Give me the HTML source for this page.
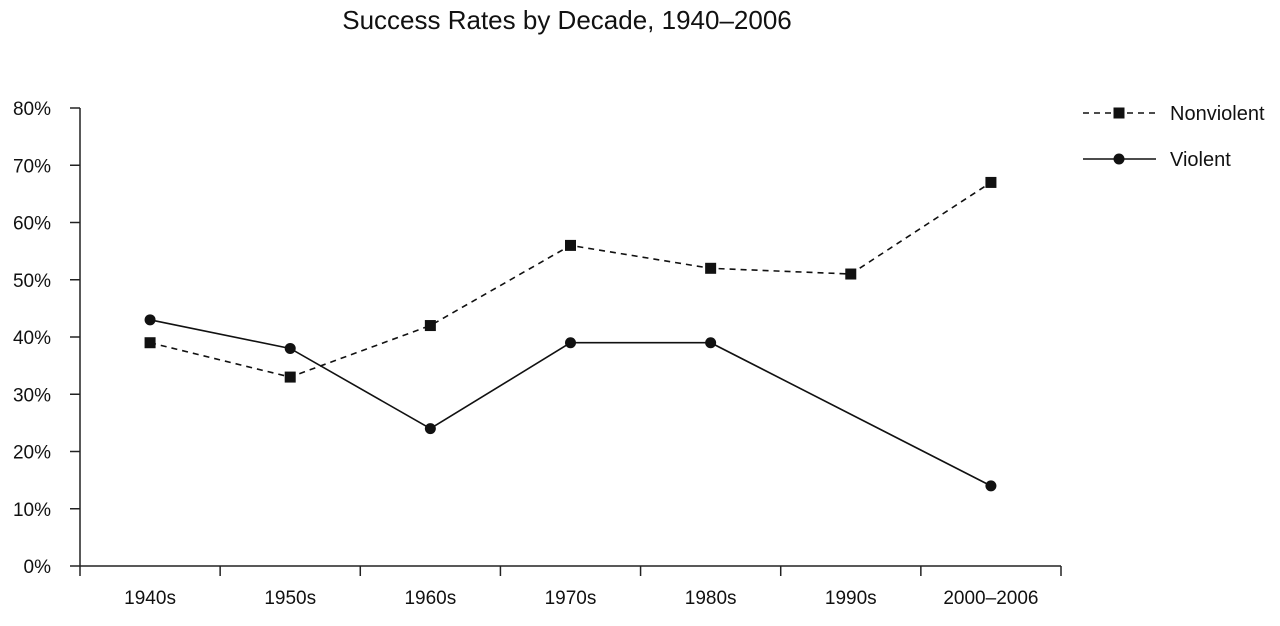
<!DOCTYPE html>
<html><head><meta charset="utf-8"><style>
html,body{margin:0;padding:0;background:#fff;}
svg{display:block;font-family:"Liberation Sans",sans-serif;}
</style></head><body>
<svg id="chart" width="1280" height="626"></svg>
<script>
const categories = ["1940s","1950s","1960s","1970s","1980s","1990s","2000–2006"];
const nonviolent = [39, 33, 42, 56, 52, 51, 67];
const violent = [43, 38, 24, 39, 39, null, 14];
const yTicks = [0,10,20,30,40,50,60,70,80];

const NS = "http://www.w3.org/2000/svg";
const svg = document.getElementById("chart");
const x0 = 80, x1 = 1061, yBase = 566, yTop = 108;
const band = (x1 - x0) / categories.length;
function xPos(i){ return x0 + band * (i + 0.5); }
function yPos(v){ return yBase - (v / 80) * (yBase - yTop); }
function mk(tag, attrs, parent){
  const e = document.createElementNS(NS, tag);
  for (const k in attrs) e.setAttribute(k, attrs[k]);
  (parent || svg).appendChild(e);
  return e;
}

const title = mk("text", {x: 567, y: 29, "text-anchor": "middle", "font-size": 26, fill: "#111"});


title.textContent = "Success Rates by Decade, 1940–2006";

const yAxis = mk("line", {x1: x0, y1: yTop, x2: x0, y2: yBase, stroke: "#222", "stroke-width": 1.5});


const xAxis = mk("line", {x1: x0, y1: yBase, x2: x1, y2: yBase, stroke: "#222", "stroke-width": 1.5});



yTicks.forEach(t => {
  const y = yPos(t);
  const tk = mk("line", {x1: 70, y1: y, x2: x0, y2: y, stroke: "#222", "stroke-width": 1.5});
  
  
  const lb = mk("text", {x: 51, y: y + 7, "text-anchor": "end", "font-size": 19, fill: "#111"});
  
  
  lb.textContent = t + "%";
});
for (let i = 0; i <= categories.length; i++) {
  const x = x0 + band * i;
  const tk = mk("line", {x1: x, y1: yBase, x2: x, y2: yBase + 10, stroke: "#222", "stroke-width": 1.5});
  
  
}
categories.forEach((c, i) => {
  const lb = mk("text", {x: xPos(i), y: 604, "text-anchor": "middle", "font-size": 19, fill: "#111"});
  
  
  lb.textContent = c;
});

function series(vals, dashed, marker, name){
  const pts = [];
  vals.forEach((v, i) => { if (v !== null) pts.push([xPos(i), yPos(v)]); });
  const pl = mk("polyline", {points: pts.map(p => p.join(",")).join(" "), fill: "none", stroke: "#111", "stroke-width": 1.6});
  if (dashed) pl.setAttribute("stroke-dasharray", "6,5");
  
  
  pts.forEach(p => {
    let m;
    if (marker === "square") m = mk("rect", {x: p[0] - 5.5, y: p[1] - 5.5, width: 11, height: 11, fill: "#111"});
    else m = mk("circle", {cx: p[0], cy: p[1], r: 5.5, fill: "#111"});
    
    
  });
}
series(nonviolent, true, "square", "nonviolent");
series(violent, false, "circle", "violent");

// legend
const l1 = mk("line", {x1: 1083, y1: 113, x2: 1156, y2: 113, stroke: "#111", "stroke-width": 1.6, "stroke-dasharray": "6,5"});


const m1 = mk("rect", {x: 1113.5, y: 107.5, width: 11, height: 11, fill: "#111"});


const t1 = mk("text", {x: 1170, y: 120, "font-size": 20, fill: "#111"});


t1.textContent = "Nonviolent";
const l2 = mk("line", {x1: 1083, y1: 159, x2: 1156, y2: 159, stroke: "#111", "stroke-width": 1.6});


const m2 = mk("circle", {cx: 1119, cy: 159, r: 5.5, fill: "#111"});


const t2 = mk("text", {x: 1170, y: 166, "font-size": 20, fill: "#111"});


t2.textContent = "Violent";
</script>
</body></html>
